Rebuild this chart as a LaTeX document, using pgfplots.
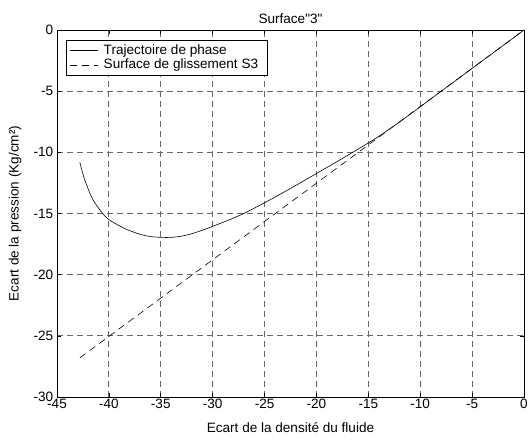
\documentclass[border=0pt]{standalone}
\usepackage{fontspec}
\setmainfont{Liberation Sans}[Ligatures=TeXOff]
\usepackage{pgfplots}
\pgfplotsset{compat=1.18}

\newcommand{\chartfont}{\fontsize{13.6}{15}\selectfont}

\begin{document}
\chartfont
\begin{tikzpicture}
\useasboundingbox (-57bp,-44bp) rectangle (474bp,397bp);
\begin{axis}[
    at={(0,0)}, anchor=south west,
    scale only axis,
    width=467bp, height=367bp,
    xmin=-45, xmax=0, ymin=-30, ymax=0,
    xtick={-45,-40,-35,-30,-25,-20,-15,-10,-5,0},
    xticklabels={-45,-40,-35,-30,-25,-20,-15,-10,-5,0},
    ytick={-30,-25,-20,-15,-10,-5,0},
    yticklabels={-30,-25,-20,-15,-10,-5,0},
    tick align=inside,
    major tick length=4bp,
    tick style={black, line width=0.6pt},
    axis line style={black, line width=0.8pt},
    grid=major,
    major grid style={gray!80!black, line width=0.8pt, dash pattern=on 6bp off 4bp},
    tick label style={font=\chartfont},
    xticklabel style={yshift=2.5bp},
    yticklabel style={xshift=1bp},
    xlabel={Ecart de la densité du fluide},
    ylabel={Ecart de la pression (Kg/cm²)},
    label style={font=\chartfont},
    xlabel style={yshift=-4bp},
    ylabel style={yshift=3bp},
    title={Surface"3"},
    title style={font=\chartfont, yshift=-4bp},
    legend image code/.code={\draw[#1] (0bp,0bp) -- (28bp,0bp);},
    legend style={draw=black, line width=0.6pt, font=\chartfont,
        at={(0.019,0.973)}, anchor=north west, inner xsep=4pt, inner ysep=2pt, row sep=-1pt,
        nodes={inner xsep=5pt}},
    legend cell align=left,
]
\addplot[black, line width=0.6pt, smooth] coordinates {
(-42.8,-10.8) (-42.35,-12.2) (-41.55,-13.85) (-40.6,-15.0) (-40,-15.5)
(-39,-16.0) (-38.3,-16.3) (-37,-16.7) (-36,-16.88) (-35,-16.95)
(-34,-16.95) (-33,-16.85) (-32,-16.65) (-31,-16.37) (-30,-16.05)
(-29,-15.72) (-28,-15.37) (-27,-15.0) (-26,-14.57) (-25,-14.12)
(-24,-13.66) (-23,-13.19) (-22,-12.71) (-21,-12.22) (-20,-11.73)
(-19,-11.24) (-18,-10.75) (-17,-10.25) (-16,-9.74) (-15,-9.23)
(-14,-8.7) (-13,-8.12) (-12,-7.52) (-11,-6.9) (-10,-6.28)
(-8,-5.02) (-6,-3.77) (-4,-2.51) (-2,-1.26) (0,0)
};
\addlegendentry{Trajectoire de phase}
\addplot[black, line width=0.6pt, dash pattern=on 7bp off 5bp] coordinates {
(-42.8,-26.8) (0,0)
};
\addlegendentry{Surface de glissement S3}
\end{axis}
\end{tikzpicture}
\end{document}
